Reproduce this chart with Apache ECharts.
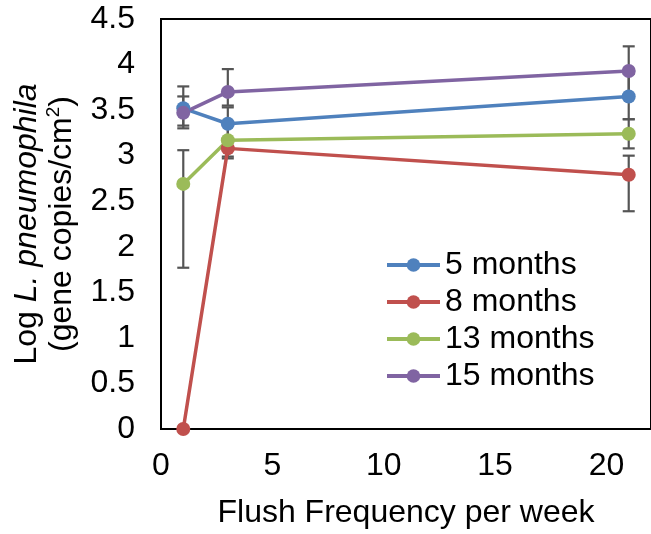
<!DOCTYPE html>
<html><head><meta charset="utf-8">
<script src="https://cdn.jsdelivr.net/npm/echarts@6/dist/echarts.min.js"></script>
<style>html,body{margin:0;padding:0;background:#fff}#c{width:651px;height:534px}</style>
</head><body><div id="c"></div>
<script>
var xValues = [1, 3, 21];
var seriesNames = ['5 months', '8 months', '13 months', '15 months'];
var m5 = [3.52, 3.35, 3.65];
var m8 = [0, 3.08, 2.79];
var m13 = [2.69, 3.17, 3.24];
var m15 = [3.47, 3.70, 3.93];
var m5Plus = [0.24, 0.18, 0.25], m5Minus = [0.19, 0.18, 0.25];
var m8Plus = [0, 0.11, 0.21], m8Minus = [0, 0.11, 0.40];
var m13Plus = [0.37, 0.18, 0.16], m13Minus = [0.92, 0.18, 0.16];
var m15Plus = [0.18, 0.25, 0.27], m15Minus = [0.17, 0.15, 0.27];
var colors = ['#4F81BD', '#C0504D', '#9BBB59', '#8064A2'];

var vals = [m5, m8, m13, m15];
var plus = [m5Plus, m8Plus, m13Plus, m15Plus];
var minus = [m5Minus, m8Minus, m13Minus, m15Minus];
var FONT = '"Liberation Sans", Arial, sans-serif';
var FS = 32;

var chart = echarts.init(document.getElementById('c'), null, {renderer: 'canvas'});
var series = [];
vals.forEach(function (v, si) {
  var ebData = xValues.map(function (x, i) {
    return [x, v[i] - minus[si][i], v[i] + plus[si][i]];
  }).filter(function (d) { return d[2] - d[1] > 0; });
  series.push({
    type: 'custom', z: 1, silent: true,
    data: ebData,
    encode: {x: 0, y: [1, 2]},
    renderItem: function (params, api) {
      var lo = api.coord([api.value(0), api.value(1)]);
      var hi = api.coord([api.value(0), api.value(2)]);
      var w = 6;
      var st = {stroke: '#555555', lineWidth: 2.2};
      return {type: 'group', children: [
        {type: 'line', shape: {x1: lo[0], y1: lo[1], x2: hi[0], y2: hi[1]}, style: st},
        {type: 'line', shape: {x1: lo[0] - w, y1: lo[1], x2: lo[0] + w, y2: lo[1]}, style: st},
        {type: 'line', shape: {x1: hi[0] - w, y1: hi[1], x2: hi[0] + w, y2: hi[1]}, style: st}
      ]};
    }
  });
});
vals.forEach(function (v, si) {
  series.push({
    name: seriesNames[si], type: 'line', z: 3,
    data: xValues.map(function (x, i) { return [x, v[i]]; }),
    symbol: 'circle', symbolSize: 14, showSymbol: true,
    itemStyle: {color: colors[si]},
    lineStyle: {color: colors[si], width: 3.5},
    animation: false
  });
});

chart.setOption({
  animation: false,
  textStyle: {fontFamily: FONT},
  grid: {left: 161, width: 494, top: 19, height: 411, show: true, borderColor: '#000', borderWidth: 2},
  legend: {
    data: seriesNames, orient: 'vertical', left: 385, top: 249, padding: 0,
    itemWidth: 53, itemHeight: 17, itemGap: 5,
    lineStyle: {width: 4},
    textStyle: {fontSize: FS, lineHeight: 32, color: '#000', fontFamily: FONT}
  },
  xAxis: {
    type: 'value', min: 0, max: 22, interval: 5,
    name: 'Flush Frequency per week', nameLocation: 'middle', nameGap: 68,
    nameTextStyle: {fontSize: FS, color: '#000', fontFamily: FONT},
    axisLine: {lineStyle: {color: '#000', width: 2}},
    axisTick: {show: false}, splitLine: {show: false},
    axisLabel: {fontSize: FS, color: '#000', margin: 21, showMaxLabel: false, fontFamily: FONT}
  },
  yAxis: {
    type: 'value', min: 0, max: 4.5, interval: 0.5,
    name: '{a|Log }{i|L. pneumophila}\n{a|(gene copies/cm}{s|2}{a|)}',
    nameLocation: 'middle', nameGap: 80,
    nameTextStyle: {
      fontSize: FS, color: '#000', fontFamily: FONT, lineHeight: 35,
      rich: {
        a: {fontSize: FS, color: '#000', fontFamily: FONT, lineHeight: 35},
        i: {fontSize: FS, color: '#000', fontStyle: 'italic', fontFamily: FONT, lineHeight: 35},
        s: {fontSize: 19, color: '#000', fontFamily: FONT, verticalAlign: 'top', lineHeight: 35, padding: [0, 0, 15, 0]}
      }
    },
    axisLine: {show: true, lineStyle: {color: '#000', width: 2}},
    axisTick: {show: false}, splitLine: {show: false},
    axisLabel: {fontSize: FS, color: '#000', margin: 26, fontFamily: FONT}
  },
  series: series
});
</script></body></html>
